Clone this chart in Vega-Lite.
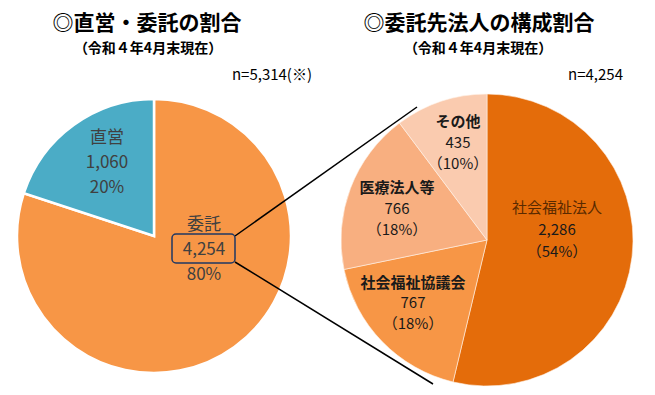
{
  "$schema": "https://vega.github.io/schema/vega-lite/v6.json",
  "width": 655,
  "height": 395,
  "padding": 0,
  "autosize": {"type": "fit", "contains": "padding"},
  "background": "white",
  "config": {"view": {"stroke": null}, "font": "Noto Sans CJK JP"},
  "datasets": {
    "left": [
      {"category": "委託", "value": 4254, "pct": "80%"},
      {"category": "直営", "value": 1060, "pct": "20%"}
    ],
    "right": [
      {"category": "社会福祉法人", "value": 2286, "pct": "54%"},
      {"category": "社会福祉協議会", "value": 767, "pct": "18%"},
      {"category": "医療法人等", "value": 766, "pct": "18%"},
      {"category": "その他", "value": 435, "pct": "10%"}
    ],
    "one": [{}]
  },
  "resolve": {"scale": {"theta": "independent"}},
  "layer": [
    {
      "data": {"name": "left"},
      "mark": {"type": "arc", "outerRadius": 137, "stroke": "white", "strokeWidth": 2.5},
      "encoding": {
        "x": {"datum": 154, "type": "quantitative", "scale": {"domain": [0, 655], "nice": false, "zero": false}, "axis": null},
        "y": {"datum": 236, "type": "quantitative", "scale": {"domain": [0, 395], "reverse": true, "nice": false, "zero": false}, "axis": null},
        "theta": {"field": "value", "type": "quantitative", "stack": true},
        "order": {"field": "value", "sort": "descending"},
        "color": {"field": "category", "type": "nominal", "legend": null,
          "scale": {"domain": ["委託", "直営", "社会福祉法人", "社会福祉協議会", "医療法人等", "その他"],
                    "range": ["#F79646", "#4BACC6", "#E46C0A", "#F79646", "#F8AF80", "#FACBAF"]}}
      }
    },
    {
      "data": {"name": "right"},
      "mark": {"type": "arc", "outerRadius": 146, "stroke": "#FFF3EA", "strokeWidth": 0.6},
      "encoding": {
        "x": {"datum": 487, "type": "quantitative"},
        "y": {"datum": 240, "type": "quantitative"},
        "theta": {"field": "value", "type": "quantitative", "stack": true},
        "order": {"field": "value", "sort": "descending"},
        "color": {"field": "category", "type": "nominal", "legend": null}
      }
    },
    {
      "data": {"name": "one"},
      "mark": {"type": "rule", "color": "black", "strokeWidth": 1.5},
      "encoding": {
        "x": {"datum": 235, "type": "quantitative"},
        "y": {"datum": 236, "type": "quantitative"},
        "x2": {"datum": 417},
        "y2": {"datum": 107}
      }
    },
    {
      "data": {"name": "one"},
      "mark": {"type": "rule", "color": "black", "strokeWidth": 1.5},
      "encoding": {
        "x": {"datum": 235, "type": "quantitative"},
        "y": {"datum": 262, "type": "quantitative"},
        "x2": {"datum": 433},
        "y2": {"datum": 384}
      }
    },
    {
      "data": {"name": "one"},
      "mark": {"type": "rect", "fill": null, "fillOpacity": 0, "stroke": "#1F3864", "strokeWidth": 1.5, "cornerRadius": 4},
      "encoding": {
        "x": {"datum": 172, "type": "quantitative"},
        "x2": {"datum": 235},
        "y": {"datum": 234, "type": "quantitative"},
        "y2": {"datum": 263}
      }
    },
    {
      "data": {"name": "left"},
      "transform": [
        {"filter": "datum.category === '直営'"},
        {"calculate": "[datum.category, format(datum.value, ','), datum.pct]", "as": "lbl"}
      ],
      "mark": {"type": "text", "fontSize": 17, "lineHeight": 25, "color": "#404040", "align": "center", "baseline": "middle"},
      "encoding": {
        "x": {"datum": 107, "type": "quantitative"},
        "y": {"datum": 138, "type": "quantitative"},
        "text": {"field": "lbl"}
      }
    },
    {
      "data": {"name": "left"},
      "transform": [
        {"filter": "datum.category === '委託'"},
        {"calculate": "[datum.category, format(datum.value, ','), datum.pct]", "as": "lbl"}
      ],
      "mark": {"type": "text", "fontSize": 17, "lineHeight": 25, "color": "#404040", "align": "center", "baseline": "middle"},
      "encoding": {
        "x": {"datum": 204, "type": "quantitative"},
        "y": {"datum": 225, "type": "quantitative"},
        "text": {"field": "lbl"}
      }
    },
    {
      "data": {"name": "right"},
      "transform": [{"filter": "datum.category === 'その他'"}],
      "mark": {"type": "text", "fontSize": 15, "fontWeight": "bold", "color": "#1a1a1a", "align": "center", "baseline": "middle"},
      "encoding": {"x": {"datum": 458, "type": "quantitative"}, "y": {"datum": 122, "type": "quantitative"}, "text": {"field": "category"}}
    },
    {
      "data": {"name": "right"},
      "transform": [{"filter": "datum.category === 'その他'"}, {"calculate": "[format(datum.value, ','), '（' + datum.pct + '）']", "as": "lbl"}],
      "mark": {"type": "text", "fontSize": 15, "lineHeight": 21, "color": "#1a1a1a", "align": "center", "baseline": "middle"},
      "encoding": {"x": {"datum": 458, "type": "quantitative"}, "y": {"datum": 143, "type": "quantitative"}, "text": {"field": "lbl"}}
    },
    {
      "data": {"name": "right"},
      "transform": [{"filter": "datum.category === '医療法人等'"}],
      "mark": {"type": "text", "fontSize": 15, "fontWeight": "bold", "color": "#1a1a1a", "align": "center", "baseline": "middle"},
      "encoding": {"x": {"datum": 397, "type": "quantitative"}, "y": {"datum": 188, "type": "quantitative"}, "text": {"field": "category"}}
    },
    {
      "data": {"name": "right"},
      "transform": [{"filter": "datum.category === '医療法人等'"}, {"calculate": "[format(datum.value, ','), '（' + datum.pct + '）']", "as": "lbl"}],
      "mark": {"type": "text", "fontSize": 15, "lineHeight": 21, "color": "#1a1a1a", "align": "center", "baseline": "middle"},
      "encoding": {"x": {"datum": 397, "type": "quantitative"}, "y": {"datum": 209, "type": "quantitative"}, "text": {"field": "lbl"}}
    },
    {
      "data": {"name": "right"},
      "transform": [{"filter": "datum.category === '社会福祉協議会'"}],
      "mark": {"type": "text", "fontSize": 15, "fontWeight": "bold", "color": "#1a1a1a", "align": "center", "baseline": "middle"},
      "encoding": {"x": {"datum": 413, "type": "quantitative"}, "y": {"datum": 283, "type": "quantitative"}, "text": {"field": "category"}}
    },
    {
      "data": {"name": "right"},
      "transform": [{"filter": "datum.category === '社会福祉協議会'"}, {"calculate": "[format(datum.value, ','), '（' + datum.pct + '）']", "as": "lbl"}],
      "mark": {"type": "text", "fontSize": 15, "lineHeight": 21, "color": "#1a1a1a", "align": "center", "baseline": "middle"},
      "encoding": {"x": {"datum": 413, "type": "quantitative"}, "y": {"datum": 303, "type": "quantitative"}, "text": {"field": "lbl"}}
    },
    {
      "data": {"name": "right"},
      "transform": [{"filter": "datum.category === '社会福祉法人'"}],
      "mark": {"type": "text", "fontSize": 15, "color": "#5A2A00", "align": "center", "baseline": "middle"},
      "encoding": {"x": {"datum": 557, "type": "quantitative"}, "y": {"datum": 208, "type": "quantitative"}, "text": {"field": "category"}}
    },
    {
      "data": {"name": "right"},
      "transform": [{"filter": "datum.category === '社会福祉法人'"}, {"calculate": "[format(datum.value, ','), '（' + datum.pct + '）']", "as": "lbl"}],
      "mark": {"type": "text", "fontSize": 15, "lineHeight": 22, "color": "#1a1a1a", "align": "center", "baseline": "middle"},
      "encoding": {"x": {"datum": 557, "type": "quantitative"}, "y": {"datum": 230, "type": "quantitative"}, "text": {"field": "lbl"}}
    },
    {
      "data": {"name": "one"},
      "mark": {"type": "text", "text": "◎直営・委託の割合", "fontSize": 21, "fontWeight": "bold", "color": "#000000", "align": "center", "baseline": "middle"},
      "encoding": {"x": {"datum": 147, "type": "quantitative"}, "y": {"datum": 24, "type": "quantitative"}}
    },
    {
      "data": {"name": "one"},
      "mark": {"type": "text", "text": "（令和４年4月末現在）", "fontSize": 14, "fontWeight": "bold", "color": "#000000", "align": "center", "baseline": "middle"},
      "encoding": {"x": {"datum": 148, "type": "quantitative"}, "y": {"datum": 49, "type": "quantitative"}}
    },
    {
      "data": {"name": "one"},
      "mark": {"type": "text", "text": "n=5,314(※)", "fontSize": 15, "color": "#000000", "align": "right", "baseline": "middle"},
      "encoding": {"x": {"datum": 312, "type": "quantitative"}, "y": {"datum": 75, "type": "quantitative"}}
    },
    {
      "data": {"name": "one"},
      "mark": {"type": "text", "text": "◎委託先法人の構成割合", "fontSize": 21, "fontWeight": "bold", "color": "#000000", "align": "center", "baseline": "middle"},
      "encoding": {"x": {"datum": 479, "type": "quantitative"}, "y": {"datum": 24, "type": "quantitative"}}
    },
    {
      "data": {"name": "one"},
      "mark": {"type": "text", "text": "（令和４年4月末現在）", "fontSize": 14, "fontWeight": "bold", "color": "#000000", "align": "center", "baseline": "middle"},
      "encoding": {"x": {"datum": 478, "type": "quantitative"}, "y": {"datum": 49, "type": "quantitative"}}
    },
    {
      "data": {"name": "one"},
      "mark": {"type": "text", "text": "n=4,254", "fontSize": 15, "color": "#000000", "align": "right", "baseline": "middle"},
      "encoding": {"x": {"datum": 623, "type": "quantitative"}, "y": {"datum": 75, "type": "quantitative"}}
    }
  ]
}
